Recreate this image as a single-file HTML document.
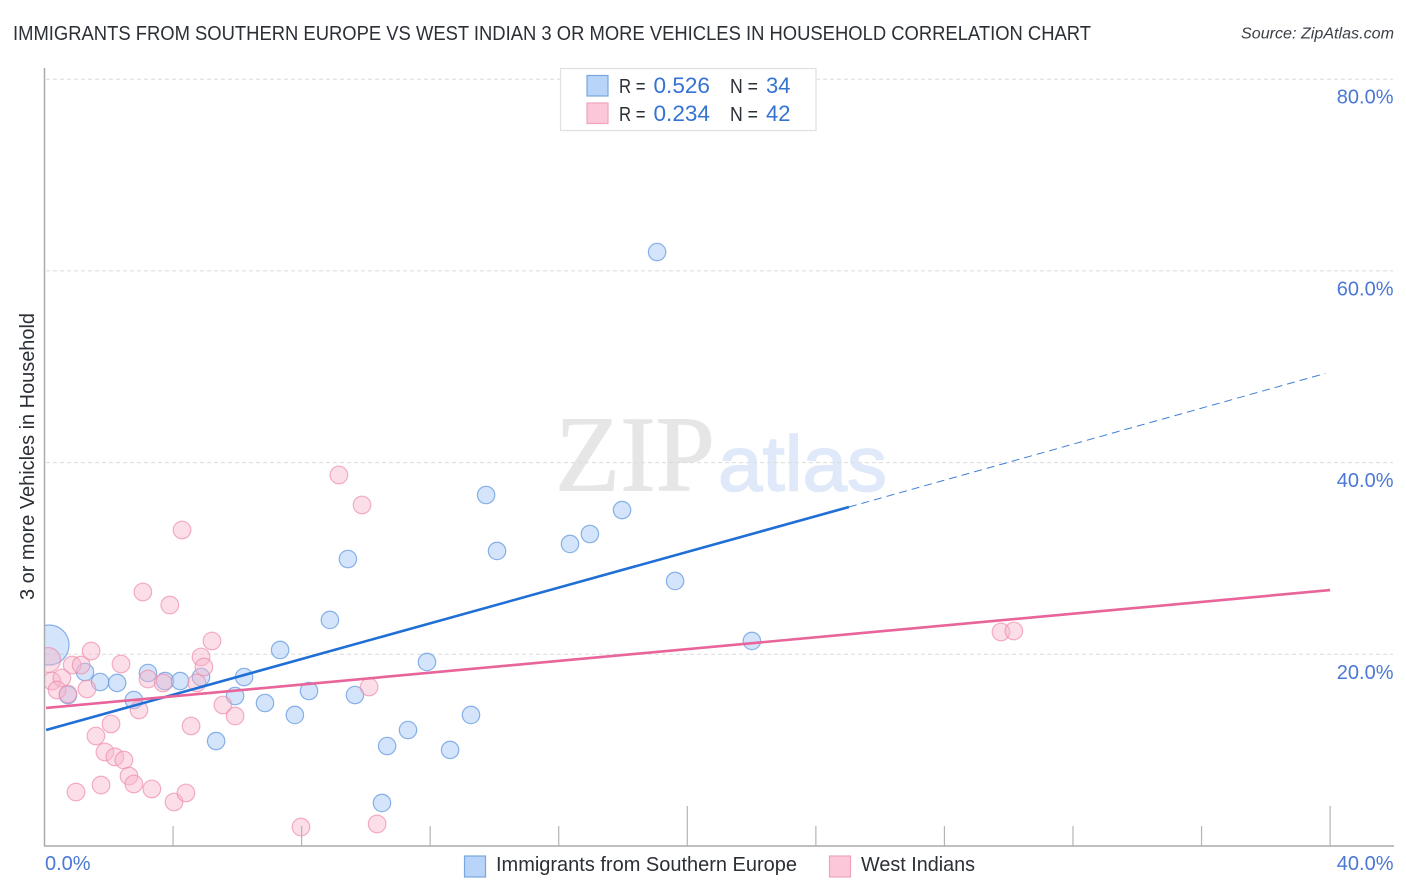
<!DOCTYPE html>
<html lang="en">
<head>
<meta charset="utf-8">
<title>Immigrants from Southern Europe vs West Indian 3 or more Vehicles in Household Correlation Chart</title>
<style>
html,body{margin:0;padding:0;background:#fff;width:1406px;height:892px;overflow:hidden}
svg{display:block;font-family:"Liberation Sans",sans-serif}
</style>
</head>
<body>
<svg id="chart" xmlns="http://www.w3.org/2000/svg" width="1406" height="892" viewBox="0 0 1406 892">
  <rect x="0" y="0" width="1406" height="892" fill="#fff"></rect>
  <text x="13" y="40" font-size="20" fill="#2b2f36" textLength="1078" lengthAdjust="spacingAndGlyphs">IMMIGRANTS FROM SOUTHERN EUROPE VS WEST INDIAN 3 OR MORE VEHICLES IN HOUSEHOLD CORRELATION CHART</text>
  <text x="1241" y="38.5" font-size="15.5" font-style="italic" fill="#3c4048" textLength="153" lengthAdjust="spacingAndGlyphs">Source: ZipAtlas.com</text>
  <g>
    <text x="555" y="490.5" font-family="'Liberation Serif',serif" font-size="108" fill="#e6e6e6" stroke="#e6e6e6" stroke-width="1" textLength="160" lengthAdjust="spacingAndGlyphs">ZIP</text>
    <text x="718" y="490.5" font-size="78" fill="#dfe9f9" stroke="#dfe9f9" stroke-width="1.5" textLength="169" lengthAdjust="spacingAndGlyphs">atlas</text>
  </g>
  <g id="grid"></g>
  <g id="marks"></g>
  <rect x="0" y="60" width="44" height="786" fill="#fff"></rect>
  <g id="axes"></g>
  <g id="lines"></g>
  <text transform="translate(34 456.5) rotate(-90)" font-size="20" fill="#2b2f36" text-anchor="middle" textLength="287" lengthAdjust="spacingAndGlyphs">3 or more Vehicles in Household</text>
  <g>
    <rect x="560.5" y="68.5" width="255.5" height="62" fill="#fff" stroke="#e0e0e0" stroke-width="1.2"></rect>
    <rect x="587" y="75.5" width="21" height="20.5" fill="#b9d4f9" stroke="#78a6e0" stroke-width="1.2"></rect>
    <rect x="587" y="103" width="21" height="20.5" fill="#fcc8d9" stroke="#f0a3bd" stroke-width="1.2"></rect>
    <text x="619" y="93" font-size="20" fill="#2b2f36" textLength="26.5" lengthAdjust="spacingAndGlyphs">R =</text>
    <text x="653.5" y="93" font-size="22" fill="#3573d3" textLength="56.5" lengthAdjust="spacingAndGlyphs">0.526</text>
    <text x="730" y="93" font-size="20" fill="#2b2f36" textLength="28" lengthAdjust="spacingAndGlyphs">N =</text>
    <text x="766" y="93" font-size="22" fill="#3573d3" textLength="24.5" lengthAdjust="spacingAndGlyphs">34</text>
    <text x="619" y="121" font-size="20" fill="#2b2f36" textLength="26.5" lengthAdjust="spacingAndGlyphs">R =</text>
    <text x="653.5" y="121" font-size="22" fill="#3573d3" textLength="56.5" lengthAdjust="spacingAndGlyphs">0.234</text>
    <text x="730" y="121" font-size="20" fill="#2b2f36" textLength="28" lengthAdjust="spacingAndGlyphs">N =</text>
    <text x="766" y="121" font-size="22" fill="#3573d3" textLength="24.5" lengthAdjust="spacingAndGlyphs">42</text>
  </g>
  <g>
    <rect x="464.5" y="856" width="21" height="21" fill="#b9d4f9" stroke="#78a6e0" stroke-width="1.2"></rect>
    <text x="496" y="871" font-size="20" fill="#2b2f36" textLength="301" lengthAdjust="spacingAndGlyphs">Immigrants from Southern Europe</text>
    <rect x="829.5" y="856" width="21" height="21" fill="#fcc8d9" stroke="#f0a3bd" stroke-width="1.2"></rect>
    <text x="861" y="871" font-size="20" fill="#2b2f36" textLength="114" lengthAdjust="spacingAndGlyphs">West Indians</text>
  </g>
</svg>
<script>
const yTicks = [20, 40, 60, 80];
const yTickLabels = ["20.0%", "40.0%", "60.0%", "80.0%"];
const xTicks = [0, 4, 8, 12, 16, 20, 24, 28, 32, 36, 40];
const xMajorTicks = [20, 40];
const xEndLabels = ["0.0%", "40.0%"];

const blueX = [19.06,13.74,17.97,16.97,16.35,14.08,9.44,19.62,8.88,7.33,22.01,11.90,6.21,3.22,1.26,1.73,2.26,3.75,4.22,4.87,0.73,2.78,5.93,6.86,8.23,9.66,7.79,13.27,11.31,5.34,10.66,12.62,10.50,0.14];
const blueY = [61.97,36.62,35.05,32.55,31.51,30.78,29.94,27.65,23.58,20.45,21.39,19.20,17.63,18.05,18.15,17.11,17.01,17.21,17.21,17.63,15.75,15.23,15.65,14.92,16.17,15.75,13.67,13.67,12.10,10.95,10.43,10.02,4.49,20.97];
const blueWeight = [1,1,1,1,1,1,1,1,1,1,1,1,1,1,1,1,1,1,1,1,1,1,1,1,1,1,1,1,1,1,1,1,1,5.3];

const pinkX = [9.16,9.88,4.28,3.06,3.90,5.21,4.87,4.96,4.74,1.45,0.86,1.14,2.38,0.11,0.23,0.54,0.39,1.32,0.73,3.22,3.69,2.94,2.07,1.60,1.88,2.19,2.47,2.63,2.78,3.34,0.98,1.76,4.03,4.40,4.56,5.55,5.93,7.98,10.35,10.10,29.76,30.16];
const pinkY = [38.71,35.58,32.97,26.50,25.14,21.39,19.72,18.68,17.01,20.34,18.88,18.88,18.99,19.41,17.21,17.53,16.28,16.38,15.86,17.42,17.01,14.19,12.73,11.48,9.81,9.29,8.97,7.30,6.47,5.95,5.63,6.36,4.59,5.53,12.52,14.71,13.56,1.98,2.30,16.59,22.33,22.43];
const pinkWeight = [1,1,1,1,1,1,1,1,1,1,1,1,1,2,1,1,1,1,1,1,1,1,1,1,1,1,1,1,1,1,1,1,1,1,1,1,1,1,1,1,1,1];

const blueTrendX = [0.05, 25.03];
const blueTrendY = [12.1, 35.37];
const blueDashX = [25.03, 39.85];
const blueDashY = [35.37, 49.3];
const pinkTrendX = [0.05, 40];
const pinkTrendY = [14.4, 26.7];

const NS = "http://www.w3.org/2000/svg";
function xScale(v){ return 44.5 + v * 32.14; }
function yScale(v){ return 846 - v * 9.585; }
function make(tag, attrs, parent){
  const el = document.createElementNS(NS, tag);
  for (const k in attrs) el.setAttribute(k, attrs[k]);
  parent.appendChild(el);
  return el;
}
const gridG = document.getElementById("grid");
const axesG = document.getElementById("axes");
const marksG = document.getElementById("marks");
const linesG = document.getElementById("lines");

yTicks.forEach(function(t, i){
  const line = make("line", {x1: 46, x2: 1393, y1: yScale(t), y2: yScale(t), stroke: "#dcdcdc", "stroke-width": 1, "stroke-dasharray": "4 3"}, gridG);
  
  
  const label = make("text", {x: 1393.5, y: yScale(t) + 24.5, "font-size": 20, fill: "#4a78d4", "text-anchor": "end"}, axesG);
  label.textContent = yTickLabels[i];
  
  
});

xTicks.forEach(function(t){
  if (t === 0) return;
  const top = xMajorTicks.indexOf(t) >= 0 ? 806 : 826;
  const tick = make("line", {x1: xScale(t), x2: xScale(t), y1: top, y2: 846, stroke: "#b4b4b4", "stroke-width": 1.2}, axesG);
  
  
});
const yAxis = make("line", {x1: 44.5, x2: 44.5, y1: 68, y2: 846, stroke: "#aaaaaa", "stroke-width": 1.5}, axesG);


const xAxis = make("line", {x1: 44, x2: 1394, y1: 846, y2: 846, stroke: "#aaaaaa", "stroke-width": 1.5}, axesG);


const xLabelStart = make("text", {x: 45, y: 870, "font-size": 20, fill: "#4a78d4"}, axesG);
xLabelStart.textContent = xEndLabels[0];


const xLabelEnd = make("text", {x: 1393.5, y: 870, "font-size": 20, fill: "#4a78d4", "text-anchor": "end"}, axesG);
xLabelEnd.textContent = xEndLabels[1];



blueX.forEach(function(v, i){
  const dot = make("circle", {cx: xScale(v), cy: yScale(blueY[i]), r: 8.7 * Math.sqrt(blueWeight[i]), fill: "#a9caf5", "fill-opacity": 0.5, stroke: "#6c9fe2", "stroke-opacity": 0.8, "stroke-width": 1.2}, marksG);
  
  
});
pinkX.forEach(function(v, i){
  const dot = make("circle", {cx: xScale(v), cy: yScale(pinkY[i]), r: 8.8 * Math.sqrt(pinkWeight[i]), fill: "#f9b6cc", "fill-opacity": 0.45, stroke: "#ee8dac", "stroke-opacity": 0.7, "stroke-width": 1.2}, marksG);
  
  
});

const blueTrend = make("line", {x1: xScale(blueTrendX[0]), y1: yScale(blueTrendY[0]), x2: xScale(blueTrendX[1]), y2: yScale(blueTrendY[1]), stroke: "#1f6fd6", "stroke-width": 2.6}, linesG);


const blueDash = make("line", {x1: xScale(blueDashX[0]), y1: yScale(blueDashY[0]), x2: xScale(blueDashX[1]), y2: yScale(blueDashY[1]), stroke: "#3f7fd6", "stroke-width": 1, "stroke-dasharray": "8 5"}, linesG);


const pinkTrend = make("line", {x1: xScale(pinkTrendX[0]), y1: yScale(pinkTrendY[0]), x2: xScale(pinkTrendX[1]), y2: yScale(pinkTrendY[1]), stroke: "#e8649a", "stroke-width": 2.6}, linesG);


</script>
</body>
</html>
